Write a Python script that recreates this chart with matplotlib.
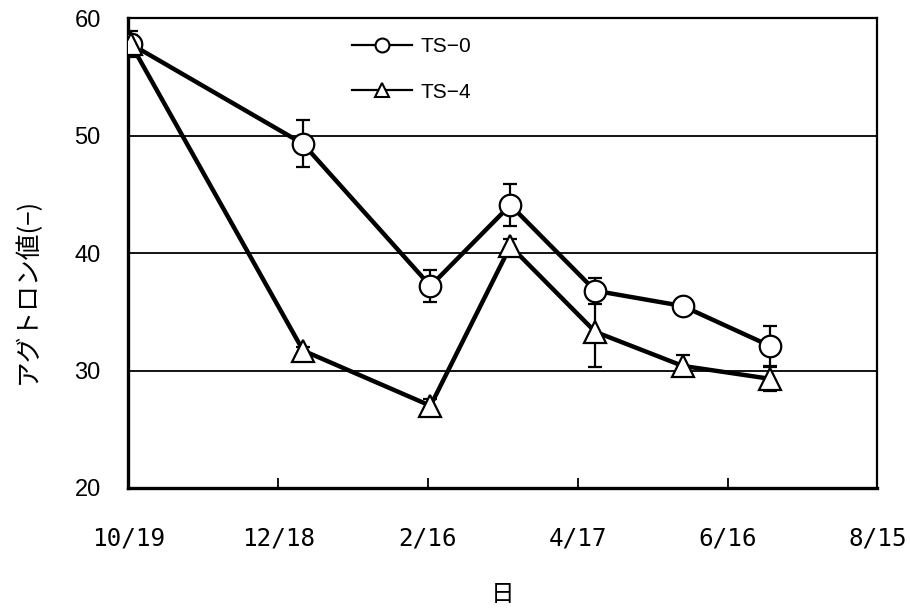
import matplotlib
matplotlib.use('Agg')
import matplotlib.pyplot as plt
import matplotlib.dates as mdates
import numpy as np
from matplotlib.lines import Line2D

plt.rcParams['font.family'] = ['Noto Sans CJK JP', 'DejaVu Sans']

# sampling dates
dates = np.array(["2008-10-20", "2008-12-28", "2009-02-17", "2009-03-21",
                  "2009-04-24", "2009-05-29", "2009-07-03"], dtype='datetime64[D]')

ts0 = [57.8, 49.3, 37.2, 44.1, 36.8, 35.5, 32.1]
ts0_err = [0.8, 2.0, 1.4, 1.8, 1.1, 0.3, 1.7]
ts4 = [57.8, 31.7, 27.0, 40.6, 33.3, 30.4, 29.3]
ts4_err = [1.1, 0.3, 0.6, 0.6, 3.0, 0.9, 1.0]

tick_dates = np.array(["2008-10-19", "2008-12-18", "2009-02-16", "2009-04-17",
                       "2009-06-16", "2009-08-15"], dtype='datetime64[D]')
tick_labels = ["10/19", "12/18", "2/16", "4/17", "6/16", "8/15"]

fig = plt.figure(figsize=(9.11, 6.10), dpi=100)
ax = fig.add_axes([0.141, 0.2, 0.822, 0.77])

x = mdates.date2num(dates)

for y, e in [(ts0, ts0_err), (ts4, ts4_err)]:
    ax.errorbar(x, y, yerr=e, fmt='none', ecolor='black', elinewidth=1.6,
                capsize=5, capthick=1.6, zorder=3)

ax.plot(x, ts0, color='black', lw=3.2, marker='o', markersize=15.5,
        markerfacecolor='white', markeredgecolor='black', markeredgewidth=1.6, zorder=4)
ax.plot(x, ts4, color='black', lw=3.2, marker='^', markersize=15.5,
        markerfacecolor='white', markeredgecolor='black', markeredgewidth=1.6, zorder=5)

ax.set_ylim(20, 60)
ax.set_yticks([20, 30, 40, 50, 60])
ax.set_xlim(mdates.date2num(tick_dates[0]), mdates.date2num(tick_dates[-1]))
ax.set_xticks(mdates.date2num(tick_dates))
ax.set_xticklabels(tick_labels)

ax.yaxis.grid(True, color='black', lw=1.3)
ax.set_axisbelow(True)

for side in ['left', 'bottom']:
    ax.spines[side].set_linewidth(2.4)
for side in ['top', 'right']:
    ax.spines[side].set_linewidth(1.6)

ax.tick_params(axis='x', direction='in', length=7, width=1.3, pad=28, labelsize=17.5)
ax.tick_params(axis='y', direction='in', length=0, pad=20, labelsize=17)
for lab in ax.get_yticklabels():
    lab.set_family('Liberation Sans')
for lab in ax.get_xticklabels():
    lab.set_family('DejaVu Sans Mono')

ax.set_ylabel("アグトロン値(−)", fontsize=18.5, va='center')
ax.yaxis.set_label_coords(-0.135, 0.42)
ax.set_xlabel("日", fontsize=17, va='center')
ax.xaxis.set_label_coords(0.5, -0.226)

handles = [
    Line2D([], [], color='black', lw=1.6, marker='o', markersize=10,
           markerfacecolor='white', markeredgewidth=1.5),
    Line2D([], [], color='black', lw=1.6, marker='^', markersize=10,
           markerfacecolor='white', markeredgewidth=1.5),
]
leg = ax.legend(handles, ["TS−0", "TS−4"], loc='upper left', bbox_to_anchor=(0.299, 0.96),
                frameon=False, borderpad=0, borderaxespad=0,
                handlelength=2.85, handletextpad=0.4, labelspacing=1.27,
                prop={'family': 'Liberation Sans', 'size': 15})

plt.savefig('out.png', dpi=100)
plt.close(fig)
